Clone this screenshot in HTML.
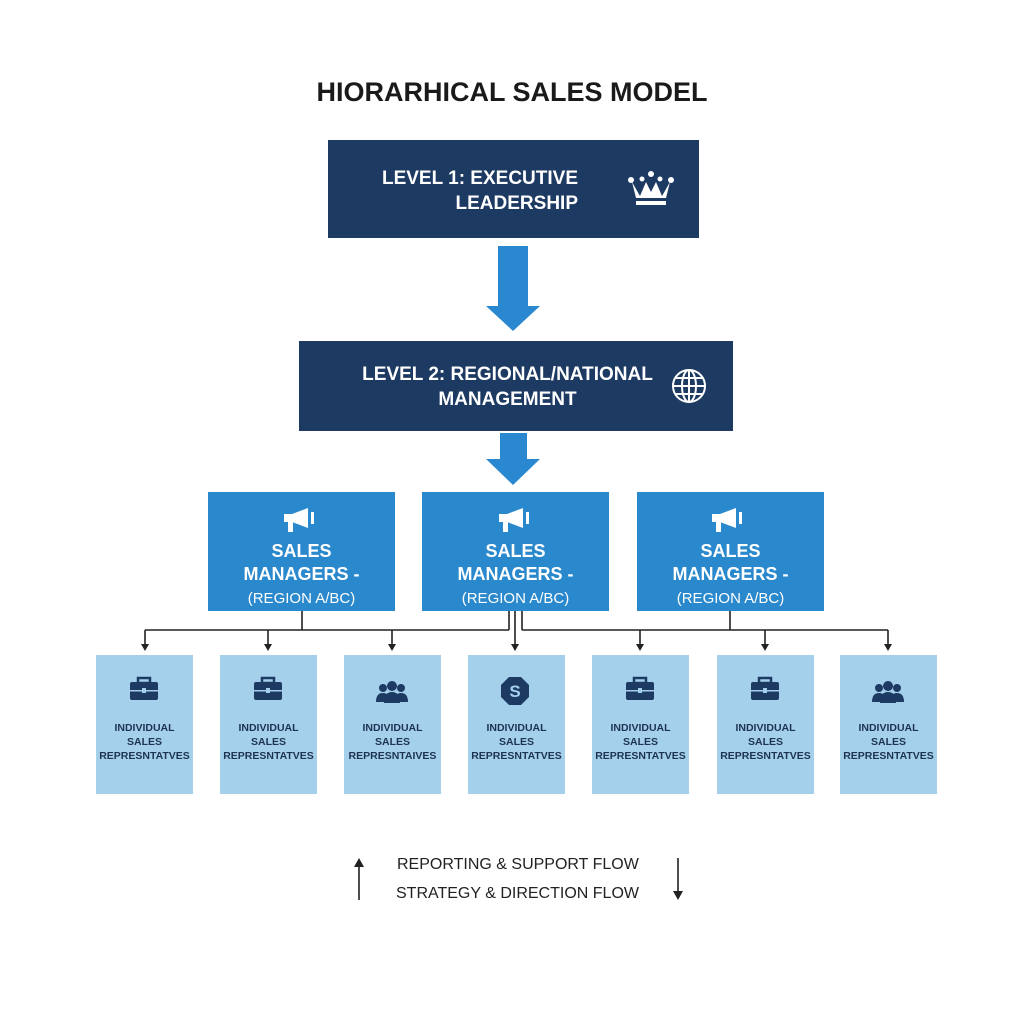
<!DOCTYPE html>
<html><head><style>
body{margin:0;width:1024px;height:1024px;background:#fff;position:relative;font-family:"Liberation Sans",sans-serif;overflow:hidden}
.a{position:absolute;box-sizing:border-box}
.t{position:absolute;text-align:center;font-weight:bold}
.dk{background:#1d3a63;color:#fff}
.mg{background:#2a88cc;color:#fff;text-align:center}
.rp{background:#a5d0ec;color:#1d3352;text-align:center;font-weight:bold;font-size:10.5px;line-height:14px}
</style></head><body>
<div class="t" style="left:0;width:1024px;top:77px;font-size:27px;color:#1a1a1a">HIORARHICAL SALES MODEL</div>

<div class="a dk" style="left:328px;top:140px;width:371px;height:98px"></div>
<div class="t" style="left:340px;width:238px;top:166px;font-size:19px;line-height:25px;color:#fff;text-align:right">LEVEL 1: EXECUTIVE<br>LEADERSHIP</div>
<svg class="a" style="left:626px;top:170px" width="50" height="38" viewBox="0 0 50 38"><path d="M6 12 L14 26 L20 12 L25 22 L30 12 L36 26 L44 12 L40 28 L10 28 Z" fill="#fff"/><circle cx="5" cy="10" r="3" fill="#fff"/><circle cx="45" cy="10" r="3" fill="#fff"/><circle cx="25" cy="4" r="3" fill="#fff"/><circle cx="16" cy="9" r="2.5" fill="#fff"/><circle cx="34" cy="9" r="2.5" fill="#fff"/><rect x="10" y="31" width="30" height="4" fill="#fff"/></svg>

<svg class="a" style="left:0;top:0" width="1024" height="1024">
<polygon points="498,246 528,246 528,306 540,306 513,331 486,306 498,306" fill="#2a88d0"/>
<polygon points="500,433 527,433 527,459 540,459 513,485 486,459 500,459" fill="#2a88d0"/>
<g stroke="#222" stroke-width="1.6" fill="none">
<path d="M145 630 H509 M522 630 H888 M302 610 V630 M509 610 V630 M515 610 V650 M522 610 V630 M730 610 V630"/>
<path d="M145 630 V649 M268 630 V649 M392 630 V649 M640 630 V649 M765 630 V649 M888 630 V649"/>
<path d="M359 900 V864 M678 858 V894"/>
</g>
<g fill="#222">
<polygon points="141,644 149,644 145,651"/><polygon points="264,644 272,644 268,651"/><polygon points="388,644 396,644 392,651"/><polygon points="511,644 519,644 515,651"/><polygon points="636,644 644,644 640,651"/><polygon points="761,644 769,644 765,651"/><polygon points="884,644 892,644 888,651"/>
<polygon points="354,867 364,867 359,858"/><polygon points="673,891 683,891 678,900"/>
</g>
</svg>

<div class="a dk" style="left:299px;top:341px;width:434px;height:90px"></div>
<div class="t" style="left:340px;width:335px;top:362px;font-size:19px;line-height:25px;color:#fff">LEVEL 2: REGIONAL/NATIONAL<br>MANAGEMENT</div>
<svg class="a" style="left:671px;top:368px" width="36" height="36" viewBox="0 0 36 36" fill="none" stroke="#fff" stroke-width="2"><circle cx="18" cy="18" r="16"/><ellipse cx="18" cy="18" rx="7" ry="16"/><path d="M2 18H34M5 10H31M5 26H31M18 2V34"/></svg>

<div class="a mg" style="left:208px;top:492px;width:187px;height:119px"></div>
<div class="a mg" style="left:422px;top:492px;width:187px;height:119px"></div>
<div class="a mg" style="left:637px;top:492px;width:187px;height:119px"></div>
<div class="t" style="left:208px;width:187px;top:540px;font-size:18px;line-height:23px;color:#fff">SALES<br>MANAGERS -<br><span style="font-weight:normal;font-size:15px">(REGION A/BC)</span></div>
<div class="t" style="left:422px;width:187px;top:540px;font-size:18px;line-height:23px;color:#fff">SALES<br>MANAGERS -<br><span style="font-weight:normal;font-size:15px">(REGION A/BC)</span></div>
<div class="t" style="left:637px;width:187px;top:540px;font-size:18px;line-height:23px;color:#fff">SALES<br>MANAGERS -<br><span style="font-weight:normal;font-size:15px">(REGION A/BC)</span></div>
<svg class="a" style="left:282px;top:506px" width="36" height="28" viewBox="0 0 36 28" fill="#fff"><path d="M2 8 H10 L26 2 V22 L10 16 H2 Z"/><rect x="6" y="16" width="5" height="10"/><rect x="29" y="6" width="3" height="12"/></svg>
<svg class="a" style="left:497px;top:506px" width="36" height="28" viewBox="0 0 36 28" fill="#fff"><path d="M2 8 H10 L26 2 V22 L10 16 H2 Z"/><rect x="6" y="16" width="5" height="10"/><rect x="29" y="6" width="3" height="12"/></svg>
<svg class="a" style="left:710px;top:506px" width="36" height="28" viewBox="0 0 36 28" fill="#fff"><path d="M2 8 H10 L26 2 V22 L10 16 H2 Z"/><rect x="6" y="16" width="5" height="10"/><rect x="29" y="6" width="3" height="12"/></svg>

<div class="a rp" style="left:96px;top:655px;width:97px;height:139px;padding-top:66px">INDIVIDUAL<br>SALES<br>REPRESNTATVES</div>
<div class="a rp" style="left:220px;top:655px;width:97px;height:139px;padding-top:66px">INDIVIDUAL<br>SALES<br>REPRESNTATVES</div>
<div class="a rp" style="left:344px;top:655px;width:97px;height:139px;padding-top:66px">INDIVIDUAL<br>SALES<br>REPRESNTAIVES</div>
<div class="a rp" style="left:468px;top:655px;width:97px;height:139px;padding-top:66px">INDIVIDUAL<br>SALES<br>REPRESNTATVES</div>
<div class="a rp" style="left:592px;top:655px;width:97px;height:139px;padding-top:66px">INDIVIDUAL<br>SALES<br>REPRESNTATVES</div>
<div class="a rp" style="left:717px;top:655px;width:97px;height:139px;padding-top:66px">INDIVIDUAL<br>SALES<br>REPRESNTATVES</div>
<div class="a rp" style="left:840px;top:655px;width:97px;height:139px;padding-top:66px">INDIVIDUAL<br>SALES<br>REPRESNTATVES</div>

<svg class="a" style="left:0;top:0" width="1024" height="1024">
<defs>
<g id="bc"><rect x="-14" y="-9" width="28" height="18" rx="2" fill="#1d3a63"/><rect x="-6" y="-13" width="12" height="5" fill="none" stroke="#1d3a63" stroke-width="2.5"/><rect x="-14" y="-1" width="28" height="1.5" fill="#a5d0ec"/><rect x="-2" y="-3" width="4" height="5" fill="#a5d0ec"/></g>
<g id="pp" fill="#1d3a63"><circle cx="-9" cy="-5" r="4"/><circle cx="9" cy="-5" r="4"/><circle cx="0" cy="-7" r="5"/><path d="M-16 9 Q-16 0 -9 0 Q-2 0 -2 9Z"/><path d="M16 9 Q16 0 9 0 Q2 0 2 9Z"/><path d="M-8 10 Q-8 -1 0 -1 Q8 -1 8 10Z"/></g>
</defs>
<use href="#bc" x="144" y="691"/><use href="#bc" x="268" y="691"/><use href="#pp" x="392" y="693"/>
<g transform="translate(515,691)"><polygon points="-6,-14 6,-14 14,-6 14,6 6,14 -6,14 -14,6 -14,-6" fill="#1d3a63"/><text x="0" y="6" font-size="17" font-weight="bold" fill="#a5d0ec" text-anchor="middle" font-family="Liberation Sans">S</text></g>
<use href="#bc" x="640" y="691"/><use href="#bc" x="765" y="691"/><use href="#pp" x="888" y="693"/>
</svg>

<div class="a" style="left:397px;top:855px;font-size:16px;color:#222;line-height:20px">REPORTING &amp; SUPPORT FLOW</div>
<div class="a" style="left:396px;top:884px;font-size:16px;color:#222;line-height:20px">STRATEGY &amp; DIRECTION FLOW</div>
</body></html>
